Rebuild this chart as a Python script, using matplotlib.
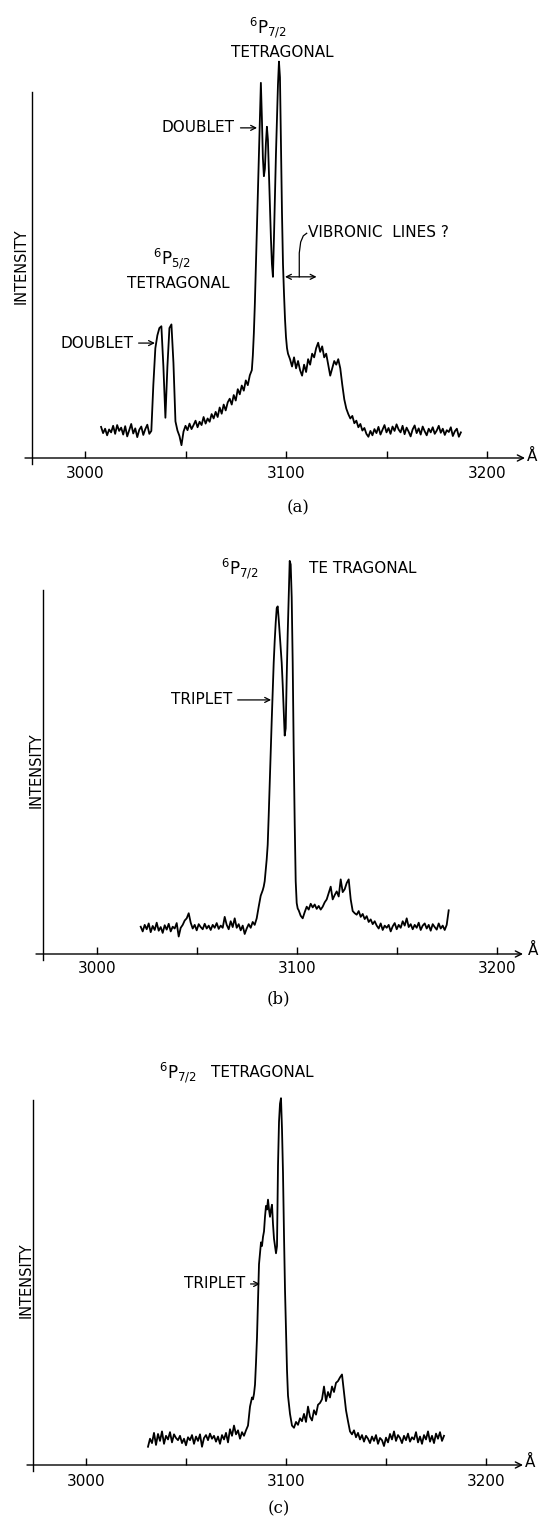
import numpy as np
import matplotlib.pyplot as plt

W, H = 541, 1525
plt.rcParams['font.family'] = ['DejaVu Sans']


def grid(lo, hi, step=1.0):
    return np.arange(lo, hi + step / 2, step)


# --- panel (a): wavelength (A) and relative intensity
wl_a = np.concatenate([grid(3008, 3082), grid(3083, 3101, 0.5), grid(3102, 3187)])
int_a = [
    0.085, 0.068, 0.080, 0.062, 0.078, 0.070, 0.088, 0.066, 0.090, 0.074,
    0.083, 0.064, 0.087, 0.059, 0.076, 0.093, 0.067, 0.081, 0.057, 0.077,
    0.086, 0.063, 0.079, 0.091, 0.066, 0.074, 0.200, 0.300, 0.335, 0.355,
    0.360, 0.250, 0.110, 0.250, 0.355, 0.365, 0.260, 0.100, 0.075, 0.060,
    0.035, 0.072, 0.088, 0.076, 0.094, 0.079, 0.090, 0.102, 0.084, 0.099,
    0.090, 0.112, 0.094, 0.108, 0.099, 0.120, 0.108, 0.126, 0.112, 0.138,
    0.121, 0.146, 0.130, 0.152, 0.162, 0.146, 0.172, 0.157, 0.188, 0.174,
    0.198, 0.184, 0.212, 0.199, 0.226,
    # 3083 - 3101, every 0.5 A
    0.240, 0.280, 0.340, 0.420, 0.520, 0.620, 0.720, 0.820, 0.930, 1.025,
    0.930, 0.820, 0.770, 0.790, 0.860, 0.905, 0.870, 0.780, 0.690, 0.600,
    0.530, 0.495, 0.600, 0.720, 0.830, 0.930, 1.020, 1.083, 1.040, 0.860,
    0.670, 0.530, 0.450, 0.380, 0.330, 0.300, 0.285,
    # 3102 - 3187
    0.270, 0.250, 0.275, 0.245, 0.265, 0.240, 0.225, 0.255, 0.235, 0.270,
    0.255, 0.285, 0.275, 0.300, 0.315, 0.290, 0.305, 0.275, 0.285, 0.255,
    0.225, 0.245, 0.265, 0.255, 0.270, 0.245, 0.200, 0.160, 0.135, 0.120,
    0.108, 0.115, 0.095, 0.102, 0.084, 0.093, 0.075, 0.082, 0.066, 0.058,
    0.074, 0.062, 0.079, 0.068, 0.085, 0.064, 0.077, 0.090, 0.070, 0.082,
    0.066, 0.086, 0.074, 0.092, 0.078, 0.070, 0.088, 0.065, 0.083, 0.072,
    0.059, 0.078, 0.089, 0.068, 0.081, 0.064, 0.086, 0.073, 0.062, 0.080,
    0.070, 0.084, 0.066, 0.075, 0.088, 0.069, 0.080, 0.063, 0.076, 0.071,
    0.084, 0.060, 0.073, 0.080, 0.058, 0.070,
]

# --- panel (b)
wl_b = np.concatenate([grid(3022, 3082), grid(3083, 3101, 0.5), grid(3102, 3176)])
int_b = [
    0.075, 0.062, 0.080, 0.068, 0.084, 0.060, 0.077, 0.066, 0.086, 0.064,
    0.074, 0.058, 0.079, 0.067, 0.083, 0.062, 0.075, 0.070, 0.085, 0.048,
    0.072, 0.080, 0.092, 0.098, 0.112, 0.086, 0.070, 0.080, 0.065, 0.082,
    0.074, 0.068, 0.083, 0.070, 0.078, 0.066, 0.080, 0.072, 0.085, 0.069,
    0.078, 0.072, 0.102, 0.080, 0.068, 0.090, 0.074, 0.098, 0.072, 0.082,
    0.065, 0.078, 0.055, 0.070, 0.082, 0.072, 0.088, 0.080, 0.098, 0.130,
    0.160,
    # 3083 - 3101, every 0.5 A
    0.175, 0.185, 0.200, 0.230, 0.260, 0.300, 0.380, 0.470, 0.560, 0.640,
    0.720, 0.800, 0.860, 0.910, 0.950, 0.955, 0.920, 0.880, 0.840, 0.800,
    0.740, 0.670, 0.600, 0.620, 0.760, 0.880, 0.980, 1.080, 1.070, 0.980,
    0.800, 0.560, 0.360, 0.200, 0.140, 0.125, 0.120,
    # 3102 - 3176
    0.105, 0.098, 0.115, 0.130, 0.122, 0.138, 0.128, 0.136, 0.124, 0.132,
    0.122, 0.130, 0.142, 0.150, 0.168, 0.185, 0.150, 0.162, 0.172, 0.158,
    0.205, 0.170, 0.178, 0.195, 0.205, 0.150, 0.118, 0.112, 0.108, 0.118,
    0.102, 0.110, 0.096, 0.104, 0.088, 0.095, 0.082, 0.090, 0.078, 0.070,
    0.084, 0.066, 0.078, 0.072, 0.080, 0.062, 0.076, 0.085, 0.068, 0.080,
    0.072, 0.090, 0.078, 0.098, 0.074, 0.082, 0.068, 0.080, 0.072, 0.086,
    0.066, 0.078, 0.084, 0.070, 0.080, 0.064, 0.082, 0.074, 0.067, 0.084,
    0.070, 0.078, 0.066, 0.080, 0.120,
]

# --- panel (c)
wl_c = np.concatenate([grid(3031, 3082), grid(3083, 3101, 0.5), grid(3102, 3179)])
int_c = [
    0.050, 0.072, 0.060, 0.088, 0.055, 0.085, 0.066, 0.092, 0.058, 0.080,
    0.070, 0.090, 0.062, 0.084, 0.074, 0.068, 0.080, 0.060, 0.072, 0.054,
    0.076, 0.068, 0.082, 0.058, 0.078, 0.066, 0.084, 0.050, 0.074, 0.082,
    0.068, 0.086, 0.072, 0.080, 0.064, 0.078, 0.058, 0.082, 0.070, 0.088,
    0.062, 0.098, 0.080, 0.108, 0.084, 0.095, 0.072, 0.090, 0.080, 0.095,
    0.108, 0.160,
    # 3083 - 3101, every 0.5 A
    0.185, 0.180, 0.195, 0.220, 0.280, 0.350, 0.450, 0.550, 0.580, 0.610,
    0.600, 0.625, 0.640, 0.680, 0.710, 0.700, 0.727, 0.700, 0.680, 0.700,
    0.713, 0.660, 0.620, 0.600, 0.580, 0.600, 0.820, 0.940, 0.990, 1.005,
    0.920, 0.800, 0.630, 0.480, 0.370, 0.260, 0.190,
    # 3102 - 3179
    0.140, 0.108, 0.102, 0.118, 0.110, 0.128, 0.120, 0.140, 0.118, 0.160,
    0.132, 0.122, 0.150, 0.138, 0.165, 0.170, 0.180, 0.215, 0.175, 0.200,
    0.185, 0.215, 0.200, 0.225, 0.230, 0.240, 0.248, 0.200, 0.150, 0.120,
    0.092, 0.084, 0.095, 0.076, 0.088, 0.070, 0.082, 0.064, 0.080, 0.072,
    0.060, 0.078, 0.066, 0.082, 0.058, 0.074, 0.068, 0.052, 0.075, 0.062,
    0.085, 0.070, 0.092, 0.066, 0.082, 0.074, 0.060, 0.080, 0.068, 0.086,
    0.064, 0.076, 0.070, 0.090, 0.062, 0.078, 0.058, 0.082, 0.070, 0.092,
    0.064, 0.080, 0.060, 0.086, 0.072, 0.090, 0.066, 0.080,
]

major_ticks = [3000, 3100, 3200]
minor_ticks = [3050, 3150]
tick_labels = ["3000", "3100", "3200"]

fig = plt.figure(figsize=(W / 100, H / 100), dpi=100)
fig.patch.set_facecolor("white")


def panel(wl, inten, left, yaxis, x3000, ppa, axis_y, top_y, right, pad):
    # pixel layout -> axes in figure fractions
    ax = fig.add_axes([left / W, 1 - axis_y / H, (right - left) / W, (axis_y - top_y) / H])
    x0 = 3000 - (x3000 - left) / ppa
    x1 = 3000 + (right - x3000) / ppa
    ax.set_xlim(x0, x1)
    ax.set_ylim(0, 1)
    for s in ax.spines.values():
        s.set_visible(False)
    ax.set_yticks([])
    ax.set_xticks(major_ticks)
    ax.set_xticklabels(tick_labels, fontsize=11)
    ax.set_xticks(minor_ticks, minor=True)
    ax.tick_params(axis="x", which="both", direction="in", length=5, width=1.0, pad=pad)
    # axes drawn by hand: arrowed x axis, plain y axis
    ax.annotate("", xy=(x1, 0), xytext=(x0, 0), xycoords="data",
                arrowprops=dict(arrowstyle="->", lw=1.0, color="black",
                                shrinkA=0, shrinkB=0, mutation_scale=11),
                annotation_clip=False)
    yx = 3000 - (x3000 - yaxis) / ppa
    ax.plot([yx, yx], [-6 / (axis_y - top_y), 1.0], color="black", lw=1.0, clip_on=False)
    ax.plot(wl, inten, color="black", lw=1.3, clip_on=False)
    return ax


def ftext(x, y, s, **kw):
    fig.text(x / W, 1 - y / H, s, **kw)


arrow_kw = dict(arrowstyle="->", lw=0.9, color="black", shrinkA=2, shrinkB=0, mutation_scale=9)
ann = dict(fontsize=11, va="center")

# ---------------- (a)
ax = panel(wl_a, int_a, 25, 32.3, 85, 2.01, 458, 92, 525, 5.8)
ax.text(3091, 1.175, r"$^{6}$P$_{7/2}$", ha="center", fontsize=12, va="center")
ax.text(3098, 1.107, "TETRAGONAL", ha="center", **ann)
ax.annotate("DOUBLET", xy=(3085.6, 0.902), xytext=(3074.6, 0.902), ha="right",
            arrowprops=arrow_kw, **ann)
ax.text(3043.3, 0.546, r"$^{6}$P$_{5/2}$", ha="center", fontsize=12, va="center")
ax.text(3046.3, 0.478, "TETRAGONAL", ha="center", **ann)
ax.annotate("DOUBLET", xy=(3034.8, 0.314), xytext=(3023.9, 0.314), ha="right",
            arrowprops=arrow_kw, **ann)
ax.text(3111.1, 0.615, "VIBRONIC  LINES ?", ha="left", **ann)
ax.plot([3110.3, 3108.6, 3107.3, 3106.6, 3106.6], [0.614, 0.607, 0.59, 0.56, 0.495],
        color="black", lw=0.9)
ax.annotate("", xy=(3099.5, 0.495), xytext=(3115.2, 0.495),
            arrowprops=dict(arrowstyle="<->", lw=0.9, color="black", shrinkA=0,
                            shrinkB=0, mutation_scale=9))
ftext(532, 456, "Å", fontsize=11, ha="center", va="center")
ftext(21, 266, "INTENSITY", fontsize=10.5, rotation=90, ha="center", va="center")
ftext(298, 508, "(a)", fontsize=12, family="DejaVu Serif", ha="center", va="center")

# ---------------- (b)
ax = panel(wl_b, int_b, 36, 43.3, 96.7, 2.0, 954, 590, 523, 5.0)
ax.text(3071.7, 1.06, r"$^{6}$P$_{7/2}$", ha="center", fontsize=12, va="center")
ax.text(3106.2, 1.06, "TE TRAGONAL", ha="left", **ann)
ax.annotate("TRIPLET", xy=(3087.2, 0.698), xytext=(3067.7, 0.698), ha="right",
            arrowprops=arrow_kw, **ann)
ftext(533, 950, "Å", fontsize=11, ha="center", va="center")
ftext(36, 770, "INTENSITY", fontsize=10.5, rotation=90, ha="center", va="center")
ftext(278, 999, "(b)", fontsize=12, family="DejaVu Serif", ha="center", va="center")

# ---------------- (c)
ax = panel(wl_c, int_c, 27, 33.3, 86, 2.0, 1465, 1100, 523, 6.5)
ax.text(3046, 1.074, r"$^{6}$P$_{7/2}$", ha="center", fontsize=12, va="center")
ax.text(3062.5, 1.074, "TETRAGONAL", ha="left", **ann)
ax.annotate("TRIPLET", xy=(3087, 0.496), xytext=(3079.5, 0.496), ha="right",
            arrowprops=arrow_kw, **ann)
ftext(530, 1462, "Å", fontsize=11, ha="center", va="center")
ftext(26, 1280, "INTENSITY", fontsize=10.5, rotation=90, ha="center", va="center")
ftext(279, 1509, "(c)", fontsize=12, family="DejaVu Serif", ha="center", va="center")

fig.savefig("out.png", dpi=100, facecolor="white")
